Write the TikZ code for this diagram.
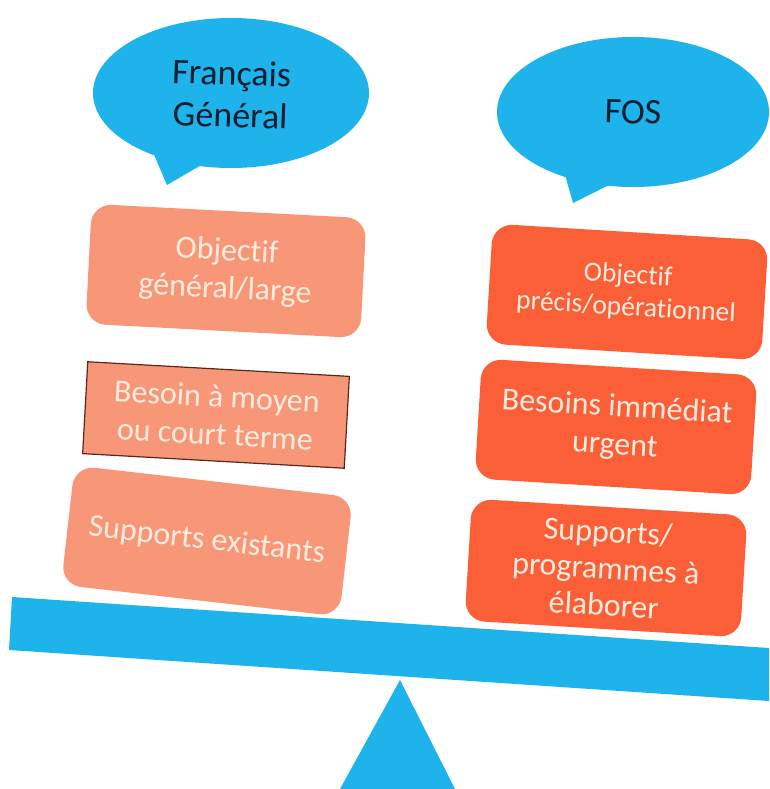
\documentclass[tikz,border=0pt]{standalone}
\usepackage{fontspec}
\setmainfont{Carlito}[Ligatures={NoCommon}]
\usetikzlibrary{shapes.geometric}
\definecolor{skyblue}{RGB}{30,180,235}
\definecolor{salmon}{RGB}{248,150,120}
\definecolor{redorange}{RGB}{250,95,55}
\definecolor{cream}{RGB}{253,236,222}
\definecolor{navy}{RGB}{16,30,50}
\definecolor{brownline}{RGB}{90,40,25}
\tikzset{
  bubble/.style={ellipse, fill=skyblue, inner sep=0pt},
  bubbletext/.style={text=navy, align=center, font=\fontsize{36}{42}\selectfont},
  lbox/.style={fill=salmon, rounded corners=20pt, text=cream, align=center,
    minimum width=275pt, minimum height=120pt, rotate=-3,
    font=\fontsize{32}{38}\selectfont},
  rbox/.style={fill=redorange, rounded corners=20pt, text=cream, align=center,
    minimum width=276pt, minimum height=120pt, rotate=-3.5,
    font=\fontsize{32}{38}\selectfont},
  sqbox/.style={fill=salmon, draw=brownline, line width=1.2pt, text=cream, align=center,
    minimum width=262pt, minimum height=92pt, rotate=-3.2,
    font=\fontsize{32}{38}\selectfont}
}
\begin{document}
\begin{tikzpicture}[x=1pt,y=1pt]
\useasboundingbox (0,0) rectangle (769,-789);
\fill[white] (0,0) rectangle (769,-789);

% fulcrum and beam
\fill[skyblue] (400,-680) -- (455,-789) -- (340,-789) -- cycle;
\fill[skyblue] (12,-597) -- (769,-648) -- (769,-701) -- (9,-650) -- cycle;

% speech bubbles
\node[bubble, minimum width=276pt, minimum height=150pt] (fgb) at (231,-93) {};
\coordinate (fgtip) at (167,-185);
\fill[skyblue] (152,-150) -- (fgtip) -- (203,-164) -- cycle;
\node[bubbletext, rotate=-2] (fgt) at (231,-94) {Français\\Général};

\node[bubble, minimum width=272pt, minimum height=150pt] (fosb) at (633,-112) {};
\coordinate (fostip) at (573,-203);
\fill[skyblue] (563,-168) -- (fostip) -- (613,-183) -- cycle;
\node[bubbletext, rotate=-2] (fost) at (633,-112) {FOS};

% left column
\node[lbox] (l1) at (226,-271) {Objectif\\général/large};
\node[sqbox] (l2) at (216,-415) {Besoin à moyen\\ou court terme};
\node[lbox, minimum width=280pt, rotate=-3.5] (l3) at (207,-541) {Supports existants};

% right column
\node[rbox, font=\fontsize{27.5}{32}\selectfont] (r1) at (627,-292) {Objectif\\précis/opérationnel};
\node[rbox] (r2) at (616,-427) {Besoins immédiat\\urgent};
\node[rbox, minimum height=122pt, font=\fontsize{32}{37}\selectfont] (r3) at (606,-568) {Supports/\\programmes à\\élaborer};
\end{tikzpicture}
\end{document}
